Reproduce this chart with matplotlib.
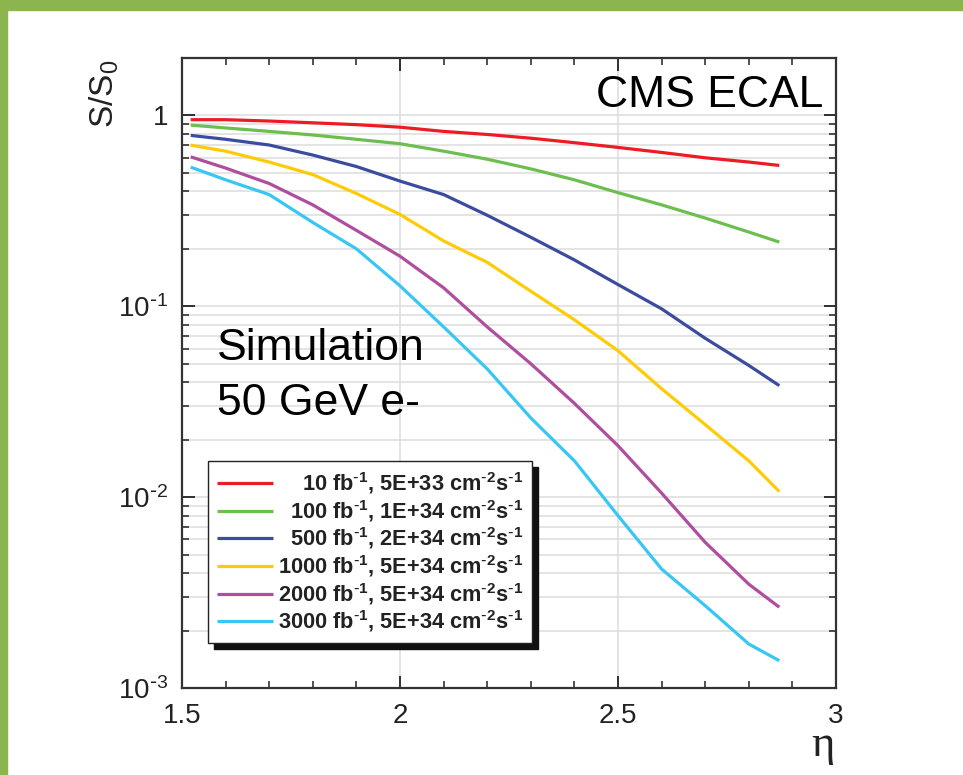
import matplotlib
matplotlib.use("Agg")
import matplotlib.pyplot as plt
import matplotlib.ticker as mticker
from matplotlib.patches import Rectangle
import numpy as np

plt.rcParams["font.family"] = ["Liberation Sans", "DejaVu Sans"]
plt.rcParams["mathtext.default"] = "regular"

# pseudorapidity points along each curve
eta = [1.52, 1.6, 1.7, 1.8, 1.9, 2.0, 2.1, 2.2, 2.3, 2.4, 2.5, 2.6, 2.7, 2.8, 2.87]

# relative signal S/S0 for each integrated luminosity scenario
s_10 = [0.95, 0.95, 0.935, 0.915, 0.895, 0.868, 0.825, 0.795, 0.76, 0.72, 0.68, 0.64, 0.60, 0.57, 0.547]
s_100 = [0.89, 0.86, 0.825, 0.79, 0.75, 0.711, 0.65, 0.59, 0.525, 0.46, 0.394, 0.34, 0.29, 0.245, 0.217]
s_500 = [0.786, 0.75, 0.70, 0.62, 0.54, 0.453, 0.385, 0.30, 0.23, 0.175, 0.13, 0.097, 0.068, 0.049, 0.0384]
s_1000 = [0.699, 0.65, 0.57, 0.49, 0.39, 0.303, 0.22, 0.17, 0.12, 0.085, 0.0585, 0.037, 0.024, 0.0155, 0.0107]
s_2000 = [0.607, 0.53, 0.44, 0.34, 0.25, 0.183, 0.125, 0.078, 0.05, 0.031, 0.0186, 0.0105, 0.0058, 0.0035, 0.00265]
s_3000 = [0.536, 0.46, 0.385, 0.275, 0.20, 0.128, 0.078, 0.047, 0.026, 0.0155, 0.008, 0.0042, 0.0027, 0.0017, 0.00139]

labels = [
    r"10 fb$^{\text{-}1}$, 5E+33 cm$^{\text{-}2}$s$^{\text{-}1}$",
    r"100 fb$^{\text{-}1}$, 1E+34 cm$^{\text{-}2}$s$^{\text{-}1}$",
    r"500 fb$^{\text{-}1}$, 2E+34 cm$^{\text{-}2}$s$^{\text{-}1}$",
    r"1000 fb$^{\text{-}1}$, 5E+34 cm$^{\text{-}2}$s$^{\text{-}1}$",
    r"2000 fb$^{\text{-}1}$, 5E+34 cm$^{\text{-}2}$s$^{\text{-}1}$",
    r"3000 fb$^{\text{-}1}$, 5E+34 cm$^{\text{-}2}$s$^{\text{-}1}$",
]
colors = ["#ed1c24", "#6cbf4f", "#3b4c9f", "#ffcb05", "#b04e9e", "#38c6f4"]
series = [s_10, s_100, s_500, s_1000, s_2000, s_3000]

ytick_vals = [1e-3, 1e-2, 1e-1, 1]
ytick_labels = [r"10$^{\text{-}3}$", r"10$^{\text{-}2}$", r"10$^{\text{-}1}$", "1"]

fig = plt.figure(figsize=(9.63, 7.75), dpi=100)

# green slide border (top and left)
fig.patches.append(Rectangle((0, 1 - 10 / 775), 1, 10 / 775, transform=fig.transFigure,
                             color="#8db54f", zorder=0))
fig.patches.append(Rectangle((0, 0), 7 / 963, 1, transform=fig.transFigure,
                             color="#8db54f", zorder=0))

ax = fig.add_axes([182 / 963, 87 / 775, 654 / 963, 630 / 775])

for s, c, lab in zip(series, colors, labels):
    ax.plot(eta, s, color=c, lw=2.3, label=lab, solid_capstyle="butt")

ax.set_yscale("log")
ax.set_xlim(1.5, 3)
ax.set_ylim(1e-3, 2.0)

ax.xaxis.set_major_locator(mticker.FixedLocator([1.5, 2, 2.5, 3]))
ax.xaxis.set_major_formatter(mticker.FixedFormatter(["1.5", "2", "2.5", "3"]))
ax.xaxis.set_minor_locator(mticker.MultipleLocator(0.1))
ax.yaxis.set_major_locator(mticker.FixedLocator(ytick_vals))
ax.yaxis.set_major_formatter(mticker.FixedFormatter(ytick_labels))
ax.yaxis.set_minor_locator(mticker.LogLocator(base=10, subs=np.arange(2, 10)))
ax.yaxis.set_minor_formatter(mticker.NullFormatter())

ax.grid(axis="x", which="major", color="#dcdcdc", lw=1.1)
ax.grid(axis="y", which="both", color="#dcdcdc", lw=1.1)
ax.set_axisbelow(True)

ax.tick_params(which="both", direction="in", top=True, right=True, colors="#222222",
               labelsize=20, labelcolor="#222222")
ax.tick_params(which="major", length=9, width=1.3)
ax.tick_params(which="minor", length=5, width=1.1)
ax.tick_params(axis="x", pad=11)
ax.tick_params(axis="y", pad=10)
for sp in ax.spines.values():
    sp.set_linewidth(1.6)
    sp.set_color("#333333")

ax.text(0.98, 0.922, "CMS ECAL", transform=ax.transAxes, ha="right", va="baseline",
        fontsize=32)
ax.text(0.054, 0.521, "Simulation", transform=ax.transAxes, ha="left", va="baseline",
        fontsize=32)
ax.text(0.054, 0.433, "50 GeV e-", transform=ax.transAxes, ha="left", va="baseline",
        fontsize=32)

fig.text(104 / 963, 1 - 60 / 775, "S/S$_0$", rotation=90, ha="center", va="top",
         fontsize=24, color="#222222")
fig.text(823 / 963, 1 - 745 / 775, "η", ha="center", va="center", fontsize=32,
         family=["Liberation Serif", "DejaVu Serif"], color="#222222")

leg = ax.legend(loc="lower left", bbox_to_anchor=(0.0398, 0.0714), borderaxespad=0,
                fancybox=False, framealpha=1, edgecolor="#222222",
                prop={"size": 15.7, "weight": "bold"}, handlelength=2.6,
                handletextpad=0.2, labelspacing=0.08, borderpad=0.4)
leg.get_frame().set_linewidth(1.0)
for t in leg.get_texts():
    t.set_color("#222222")

# right-align legend texts
fig.canvas.draw()
r = fig.canvas.get_renderer()
texts = leg.get_texts()
widths = [t.get_window_extent(r).width for t in texts]
wmax = max(widths)
for t, w in zip(texts, widths):
    t.set_position((wmax - w, 0))

# solid black drop shadow behind legend
bb = leg.get_window_extent(r).transformed(fig.transFigure.inverted())
off_x, off_y = 6 / 963, 6 / 775
ax.add_patch(Rectangle((bb.x0 + off_x, bb.y0 - off_y), bb.width, bb.height,
                       transform=fig.transFigure, color="#111111", zorder=4.9,
                       clip_on=False))

fig.savefig("out.png", dpi=100)
